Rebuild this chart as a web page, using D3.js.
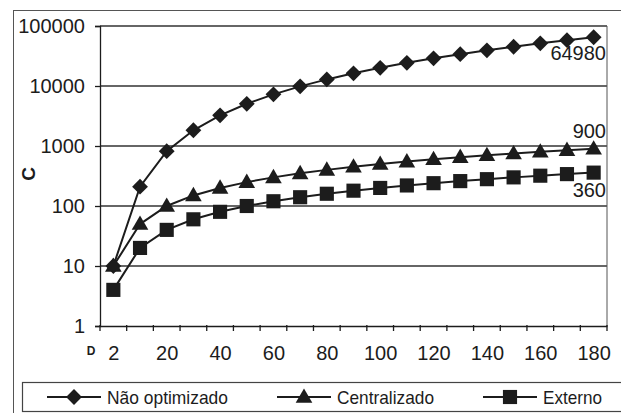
<!DOCTYPE html>
<html>
<head>
<meta charset="utf-8">
<script src="https://cdn.jsdelivr.net/npm/d3@7"></script>
<style>
  body { margin: 0; background: #fff; }
  svg { display: block; font-family: "Liberation Sans", Arial, sans-serif; }
</style>
</head>
<body>
<svg id="chart" width="621" height="413"></svg>
<script>
// categories (D) and series values (C)
const categories = [2, 10, 20, 30, 40, 50, 60, 70, 80, 90, 100, 110, 120, 130, 140, 150, 160, 170, 180];
const naoOptimizado = [10, 210, 820, 1830, 3240, 5050, 7260, 9870, 12880, 16290, 20100, 24310, 28920, 33930, 39340, 45150, 51360, 57970, 64980];
const centralizado = [10, 50, 100, 150, 200, 250, 300, 350, 400, 450, 500, 550, 600, 650, 700, 750, 800, 850, 900];
const externo = [4, 20, 40, 60, 80, 100, 120, 140, 160, 180, 200, 220, 240, 260, 280, 300, 320, 340, 360];
const xTickLabels = [2, 20, 40, 60, 80, 100, 120, 140, 160, 180];
const yTicks = [1, 10, 100, 1000, 10000, 100000];

const seriesNames = ["Não optimizado", "Centralizado", "Externo"];
const seriesValues = [naoOptimizado, centralizado, externo];

let margin = { top: 26, right: 14, bottom: 87, left: 100 };
let width = 621, height = 413;
const ink = "#1c1c1c";

// markers: diamond = rotated square
const markerTypes = [d3.symbolSquare, d3.symbolTriangle, d3.symbolSquare];
const markerSizes = [125, 120, 200];
const markerRotate = [45, 0, 0];
const markerShift = [0, 1, 0];

let svg = d3.select("#chart");

// outer frame
svg.append("rect")
    .attr("x", 13.5).attr("y", 10.5)
    .attr("width", 640).attr("height", 440)
    .attr("fill", "none").attr("stroke", "#555").attr("stroke-width", 1);

let x = d3.scalePoint()
    .domain(categories)
    .range([margin.left, width - margin.right])
    .padding(0.5);
let step = x.step();

let y = d3.scaleLog()
    .domain([1, 100000])
    .range([height - margin.bottom, margin.top]);

// gridlines
svg.append("g")
    .selectAll("line")
    .data(yTicks.slice(1))
    .join("line")
    .attr("x1", margin.left).attr("x2", width - margin.right)
    .attr("y1", d => y(d)).attr("y2", d => y(d))
    .attr("stroke", "#333").attr("stroke-width", 1.3);

// right border of plot
svg.append("line")
    .attr("x1", width - margin.right).attr("x2", width - margin.right)
    .attr("y1", margin.top).attr("y2", height - margin.bottom)
    .attr("stroke", "#555").attr("stroke-width", 1);

// Y axis
let yAxis = svg.append("g")
    .attr("transform", `translate(${margin.left},0)`)
    .call(d3.axisLeft(y).tickValues(yTicks).tickFormat(d3.format("d")).tickSize(5).tickPadding(10));
yAxis.select(".domain").attr("stroke", ink).attr("stroke-width", 1.3);
yAxis.selectAll(".tick line").attr("stroke", ink).attr("stroke-width", 1.3);
yAxis.selectAll("text").attr("font-size", 20).attr("fill", ink)
    .attr("font-family", "'Liberation Sans', Arial, sans-serif");

// X axis: labels at every other category, ticks between categories
let xAxis = svg.append("g")
    .attr("transform", `translate(0,${height - margin.bottom})`)
    .call(d3.axisBottom(x).tickValues(xTickLabels).tickSize(0).tickPadding(20));
xAxis.select(".domain").attr("stroke", ink).attr("stroke-width", 1.3);
xAxis.selectAll("text").attr("font-size", 20).attr("fill", ink)
    .attr("font-family", "'Liberation Sans', Arial, sans-serif");

xAxis.append("g")
    .selectAll("line")
    .data(d3.range(categories.length + 1))
    .join("line")
    .attr("x1", i => margin.left + i * step).attr("x2", i => margin.left + i * step)
    .attr("y1", -1).attr("y2", 5)
    .attr("stroke", ink).attr("stroke-width", 1.3);

// axis titles
svg.append("text")
    .attr("transform", `translate(35,174) rotate(-90)`)
    .attr("text-anchor", "middle")
    .attr("font-size", 19).attr("font-weight", "bold").attr("fill", ink)
    .text("C");

svg.append("text")
    .attr("x", 91).attr("y", 355)
    .attr("text-anchor", "middle")
    .attr("font-size", 12).attr("font-weight", "bold").attr("fill", ink)
    .text("D");

// series
let line = d3.line()
    .x((d, i) => x(categories[i]))
    .y(d => y(d));

seriesValues.forEach((vals, s) => {
    let g = svg.append("g");
    g.append("path")
        .datum(vals)
        .attr("d", line)
        .attr("fill", "none")
        .attr("stroke", ink)
        .attr("stroke-width", 2);
    g.selectAll("path.m")
        .data(vals)
        .join("path")
        .attr("class", "m")
        .attr("transform", (d, i) => `translate(${x(categories[i])},${y(d) + markerShift[s]}) rotate(${markerRotate[s]})`)
        .attr("d", d3.symbol().type(markerTypes[s]).size(markerSizes[s]))
        .attr("fill", ink);
});

// end value labels
let endLabels = [
    { v: naoOptimizado[naoOptimizado.length - 1], dy: 23 },
    { v: centralizado[centralizado.length - 1], dy: -11 },
    { v: externo[externo.length - 1], dy: 24 }
];
svg.append("g")
    .selectAll("text")
    .data(endLabels)
    .join("text")
    .attr("x", width - margin.right - 1)
    .attr("y", d => y(d.v) + d.dy)
    .attr("text-anchor", "end")
    .attr("font-size", 20).attr("fill", ink)
    .text(d => d.v);

// legend
let legend = svg.append("g");
legend.append("rect")
    .attr("x", 22.5).attr("y", 382.5)
    .attr("width", 640).attr("height", 29)
    .attr("fill", "none").attr("stroke", "#444").attr("stroke-width", 1.2);

let legendX = [47, 277, 483];
let legendTextW = [121, 97, 59];
seriesNames.forEach((name, s) => {
    let lx = legendX[s];
    legend.append("line")
        .attr("x1", lx).attr("x2", lx + 54)
        .attr("y1", 397).attr("y2", 397)
        .attr("stroke", ink).attr("stroke-width", 2);
    legend.append("path")
        .attr("transform", `translate(${lx + 27},${397 + markerShift[s]}) rotate(${markerRotate[s]})`)
        .attr("d", d3.symbol().type(markerTypes[s]).size(markerSizes[s]))
        .attr("fill", ink);
    legend.append("text")
        .attr("x", lx + 60).attr("y", 404)
        .attr("font-size", 19)
        .attr("textLength", legendTextW[s])
        .attr("lengthAdjust", "spacingAndGlyphs")
        .attr("fill", ink)
        .text(name);
});
</script>
</body>
</html>
